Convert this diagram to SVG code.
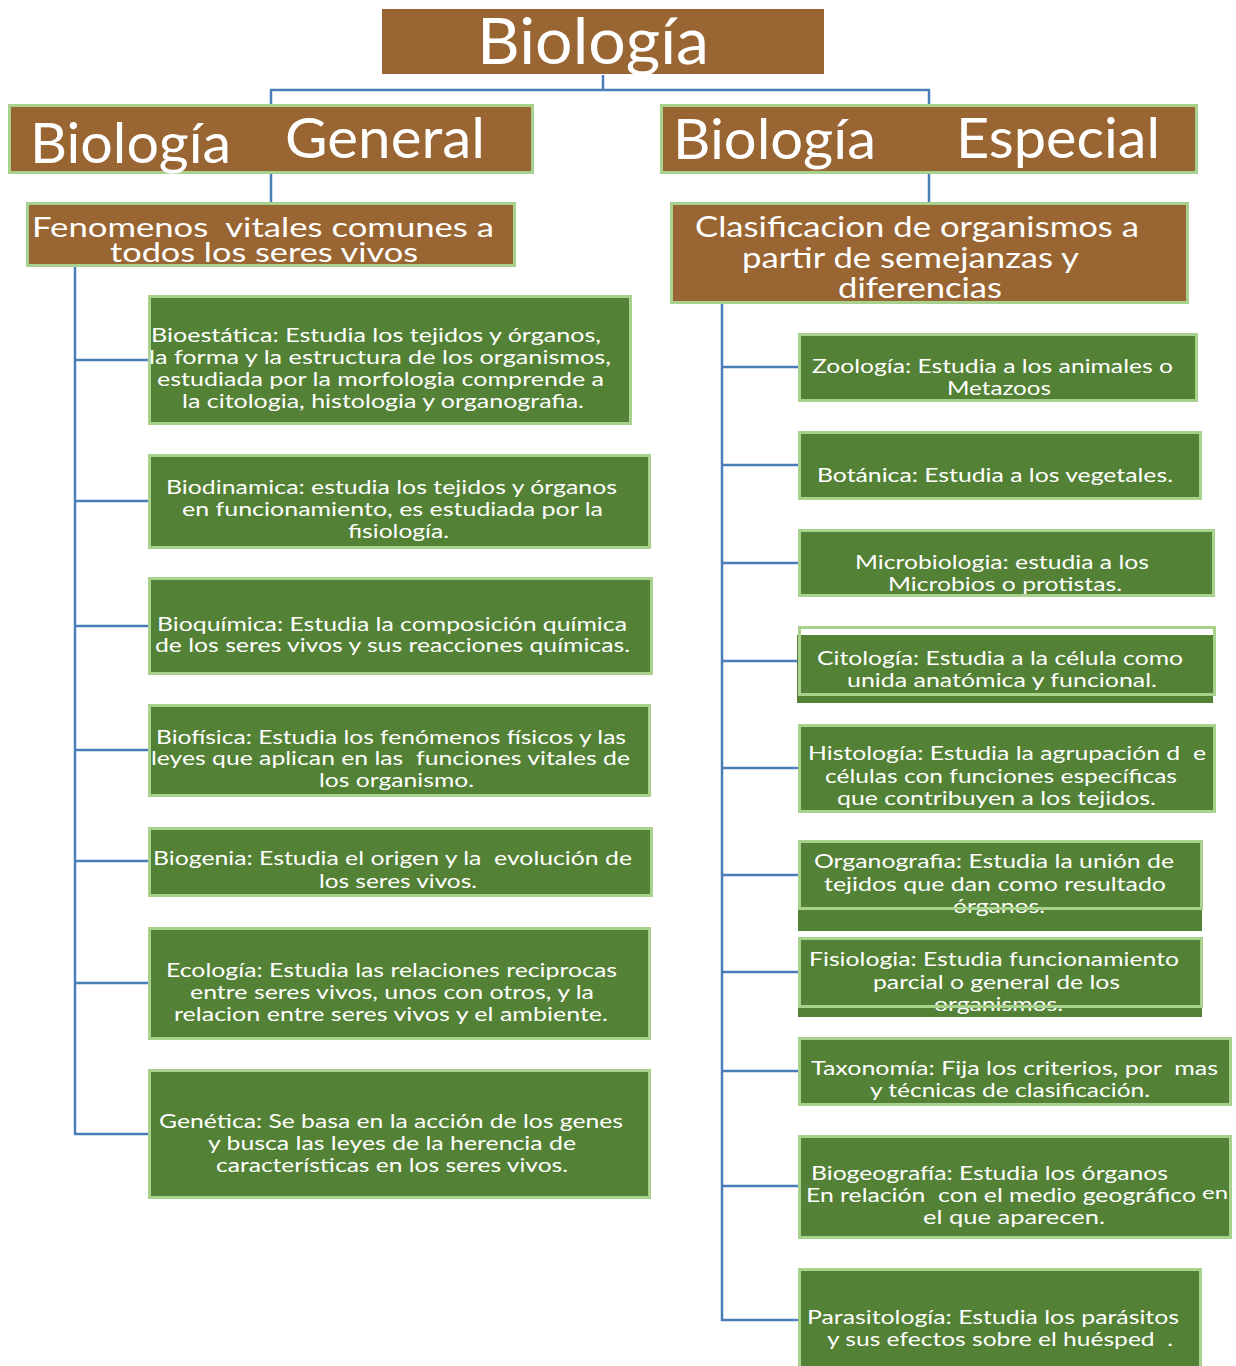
<svg xmlns="http://www.w3.org/2000/svg" width="1236" height="1366" viewBox="0 0 1236 1366" xml:space="preserve">
<style>
.brown{fill:#996633}
.bs{fill:#996633;stroke:#a9d18e;stroke-width:3}
.gb{fill:#538135;stroke:#a9d18e;stroke-width:3}
.gf{fill:#538135}
.ol{fill:none;stroke:#a9d18e;stroke-width:3}
text{font-family:Lato,"Liberation Sans",sans-serif;fill:#ffffff;white-space:pre}
.t{font-size:19.5px}
.h{font-size:56px}
.s{font-size:27px}
.c{font-size:28px}
.conn{stroke:#4a7ebb;stroke-width:2.5;fill:none}
</style>
<rect width="1236" height="1366" fill="#ffffff"/>
<g id="connectors" class="conn">
<polyline points="603,75 603,90"/>
<polyline points="271,104 271,90 929,90 929,104"/>
<line x1="271" y1="173" x2="271" y2="203"/>
<line x1="929" y1="173" x2="929" y2="203"/>
<line x1="75" y1="266" x2="75" y2="1135"/>
<line x1="74" y1="360" x2="148" y2="360"/>
<line x1="74" y1="501" x2="148" y2="501"/>
<line x1="74" y1="626" x2="148" y2="626"/>
<line x1="74" y1="750" x2="148" y2="750"/>
<line x1="74" y1="861" x2="148" y2="861"/>
<line x1="74" y1="983" x2="148" y2="983"/>
<line x1="74" y1="1134" x2="148" y2="1134"/>
<line x1="722" y1="303" x2="722" y2="1321"/>
<line x1="721" y1="367" x2="798" y2="367"/>
<line x1="721" y1="465" x2="798" y2="465"/>
<line x1="721" y1="563" x2="798" y2="563"/>
<line x1="721" y1="661" x2="798" y2="661"/>
<line x1="721" y1="768" x2="798" y2="768"/>
<line x1="721" y1="875" x2="798" y2="875"/>
<line x1="721" y1="972" x2="798" y2="972"/>
<line x1="721" y1="1071" x2="798" y2="1071"/>
<line x1="721" y1="1186" x2="798" y2="1186"/>
<line x1="721" y1="1320" x2="798" y2="1320"/>
</g>
<g id="biologia">
<rect class="brown" x="382" y="9" width="442" height="65"/>
<text x="477" y="64" font-size="64" textLength="232" lengthAdjust="spacingAndGlyphs">Biología</text>
</g>
<g id="general">
<rect class="bs" x="9.5" y="105.5" width="523" height="67"/>
<text class="h" x="30" y="163" textLength="201" lengthAdjust="spacingAndGlyphs">Biología</text>
<text class="h" x="285" y="158" textLength="200" lengthAdjust="spacingAndGlyphs">General</text>
</g>
<g id="especial">
<rect class="bs" x="661.5" y="105.5" width="535" height="67"/>
<text class="h" x="673" y="159" textLength="203" lengthAdjust="spacingAndGlyphs">Biología</text>
<text class="h" x="956" y="158" textLength="204" lengthAdjust="spacingAndGlyphs">Especial</text>
</g>
<g id="fenomenos">
<rect class="bs" x="27.5" y="203.5" width="487" height="62"/>
<text class="s" x="32" y="237" textLength="462" lengthAdjust="spacingAndGlyphs">Fenomenos  vitales comunes a</text>
<text class="s" x="110" y="262" textLength="308" lengthAdjust="spacingAndGlyphs">todos los seres vivos</text>
</g>
<g id="clasificacion">
<rect class="bs" x="671.5" y="203.5" width="516" height="99"/>
<text class="c" x="695" y="237" textLength="444" lengthAdjust="spacingAndGlyphs">Clasificacion de organismos a</text>
<text class="c" x="742" y="268" textLength="337" lengthAdjust="spacingAndGlyphs">partir de semejanzas y</text>
<text class="c" x="838" y="298" textLength="164" lengthAdjust="spacingAndGlyphs">diferencias</text>
</g>
<g id="bioestatica">
<rect class="gb" x="149.5" y="296.5" width="481" height="127"/>
<text class="t" x="151" y="342" textLength="450" lengthAdjust="spacingAndGlyphs">Bioestática: Estudia los tejidos y órganos,</text>
<text class="t" x="149" y="364" textLength="462" lengthAdjust="spacingAndGlyphs">la forma y la estructura de los organismos,</text>
<text class="t" x="157" y="386" textLength="447" lengthAdjust="spacingAndGlyphs">estudiada por la morfologia comprende a</text>
<text class="t" x="182" y="408" textLength="402" lengthAdjust="spacingAndGlyphs">la citologia, histologia y organografia.</text>
</g>
<g id="biodinamica">
<rect class="gb" x="149.5" y="455.5" width="500" height="92"/>
<text class="t" x="166" y="494" textLength="451" lengthAdjust="spacingAndGlyphs">Biodinamica: estudia los tejidos y órganos</text>
<text class="t" x="182" y="516" textLength="421" lengthAdjust="spacingAndGlyphs">en funcionamiento, es estudiada por la</text>
<text class="t" x="348" y="538" textLength="101" lengthAdjust="spacingAndGlyphs">fisiología.</text>
</g>
<g id="bioquimica">
<rect class="gb" x="149.5" y="578.5" width="502" height="95"/>
<text class="t" x="157" y="631" textLength="470" lengthAdjust="spacingAndGlyphs">Bioquímica: Estudia la composición química</text>
<text class="t" x="155" y="652" textLength="475" lengthAdjust="spacingAndGlyphs">de los seres vivos y sus reacciones químicas.</text>
</g>
<g id="biofisica">
<rect class="gb" x="149.5" y="705.5" width="500" height="90"/>
<text class="t" x="156" y="744" textLength="470" lengthAdjust="spacingAndGlyphs">Biofísica: Estudia los fenómenos físicos y las</text>
<text class="t" x="151" y="765" textLength="479" lengthAdjust="spacingAndGlyphs">leyes que aplican en las  funciones vitales de</text>
<text class="t" x="319" y="787" textLength="155" lengthAdjust="spacingAndGlyphs">los organismo.</text>
</g>
<g id="biogenia">
<rect class="gb" x="149.5" y="828.5" width="502" height="67"/>
<text class="t" x="153" y="865" textLength="479" lengthAdjust="spacingAndGlyphs">Biogenia: Estudia el origen y la  evolución de</text>
<text class="t" x="319" y="888" textLength="158" lengthAdjust="spacingAndGlyphs">los seres vivos.</text>
</g>
<g id="ecologia">
<rect class="gb" x="149.5" y="928.5" width="500" height="110"/>
<text class="t" x="166" y="977" textLength="451" lengthAdjust="spacingAndGlyphs">Ecología: Estudia las relaciones reciprocas</text>
<text class="t" x="190" y="999" textLength="404" lengthAdjust="spacingAndGlyphs">entre seres vivos, unos con otros, y la</text>
<text class="t" x="174" y="1021" textLength="434" lengthAdjust="spacingAndGlyphs">relacion entre seres vivos y el ambiente.</text>
</g>
<g id="genetica">
<rect class="gb" x="149.5" y="1070.5" width="500" height="127"/>
<text class="t" x="159" y="1128" textLength="464" lengthAdjust="spacingAndGlyphs">Genética: Se basa en la acción de los genes</text>
<text class="t" x="208" y="1150" textLength="368" lengthAdjust="spacingAndGlyphs">y busca las leyes de la herencia de</text>
<text class="t" x="216" y="1172" textLength="352" lengthAdjust="spacingAndGlyphs">características en los seres vivos.</text>
</g>
<g id="zoologia">
<rect class="gb" x="799.5" y="334.5" width="397" height="66"/>
<text class="t" x="812" y="373" textLength="361" lengthAdjust="spacingAndGlyphs">Zoología: Estudia a los animales o</text>
<text class="t" x="947" y="395" textLength="104" lengthAdjust="spacingAndGlyphs">Metazoos</text>
</g>
<g id="botanica">
<rect class="gb" x="799.5" y="432.5" width="401" height="66"/>
<text class="t" x="817" y="482" textLength="356" lengthAdjust="spacingAndGlyphs">Botánica: Estudia a los vegetales.</text>
</g>
<g id="microbiologia">
<rect class="gb" x="799.5" y="530.5" width="414" height="65"/>
<text class="t" x="855" y="569" textLength="294" lengthAdjust="spacingAndGlyphs">Microbiologia: estudia a los</text>
<text class="t" x="888" y="591" textLength="234" lengthAdjust="spacingAndGlyphs">Microbios o protistas.</text>
</g>
<g id="citologia">
<rect class="gf" x="797" y="635" width="416" height="68"/>
<rect class="ol" x="799.5" y="627.5" width="415" height="67"/>
<text class="t" x="817" y="665" textLength="366" lengthAdjust="spacingAndGlyphs">Citología: Estudia a la célula como</text>
<text class="t" x="847" y="687" textLength="310" lengthAdjust="spacingAndGlyphs">unida anatómica y funcional.</text>
</g>
<g id="histologia">
<rect class="gb" x="799.5" y="725.5" width="415" height="86"/>
<text class="t" x="808" y="760" textLength="398" lengthAdjust="spacingAndGlyphs">Histología: Estudia la agrupación d  e</text>
<text class="t" x="825" y="783" textLength="352" lengthAdjust="spacingAndGlyphs">células con funciones específicas</text>
<text class="t" x="837" y="805" textLength="319" lengthAdjust="spacingAndGlyphs">que contribuyen a los tejidos.</text>
</g>
<g id="organografia">
<rect class="gf" x="798" y="841" width="404" height="90"/>
<text class="t" x="814" y="868" textLength="360" lengthAdjust="spacingAndGlyphs">Organografia: Estudia la unión de</text>
<text class="t" x="824" y="891" textLength="342" lengthAdjust="spacingAndGlyphs">tejidos que dan como resultado</text>
<text class="t" x="953" y="913" textLength="92" lengthAdjust="spacingAndGlyphs">órganos.</text>
<rect class="ol" x="799.5" y="841.5" width="402" height="67"/>
</g>
<g id="fisiologia">
<rect class="gf" x="798" y="938" width="404" height="79"/>
<text class="t" x="809" y="966" textLength="370" lengthAdjust="spacingAndGlyphs">Fisiologia: Estudia funcionamiento</text>
<text class="t" x="873" y="989" textLength="247" lengthAdjust="spacingAndGlyphs">parcial o general de los</text>
<text class="t" x="934" y="1011" textLength="129" lengthAdjust="spacingAndGlyphs">organismos.</text>
<rect class="ol" x="799.5" y="938.5" width="402" height="68"/>
</g>
<g id="taxonomia">
<rect class="gb" x="799.5" y="1038.5" width="431" height="66"/>
<text class="t" x="811" y="1075" textLength="407" lengthAdjust="spacingAndGlyphs">Taxonomía: Fija los criterios, por  mas</text>
<text class="t" x="870" y="1097" textLength="280" lengthAdjust="spacingAndGlyphs">y técnicas de clasificación.</text>
</g>
<g id="biogeografia">
<rect class="gb" x="799.5" y="1136.5" width="431" height="101"/>
<text class="t" x="811" y="1180" textLength="357" lengthAdjust="spacingAndGlyphs">Biogeografía: Estudia los órganos</text>
<text class="t" x="806" y="1202" textLength="390" lengthAdjust="spacingAndGlyphs">En relación  con el medio geográfico</text>
<text x="1202" y="1199" font-size="17" textLength="26" lengthAdjust="spacingAndGlyphs">en</text>
<text class="t" x="923" y="1224" textLength="182" lengthAdjust="spacingAndGlyphs">el que aparecen.</text>
</g>
<g id="parasitologia">
<rect class="gb" x="799.5" y="1269.5" width="401" height="110"/>
<text class="t" x="807" y="1324" textLength="372" lengthAdjust="spacingAndGlyphs">Parasitología: Estudia los parásitos</text>
<text class="t" x="827" y="1346" textLength="346" lengthAdjust="spacingAndGlyphs">y sus efectos sobre el huésped  .</text>
</g>
</svg>
